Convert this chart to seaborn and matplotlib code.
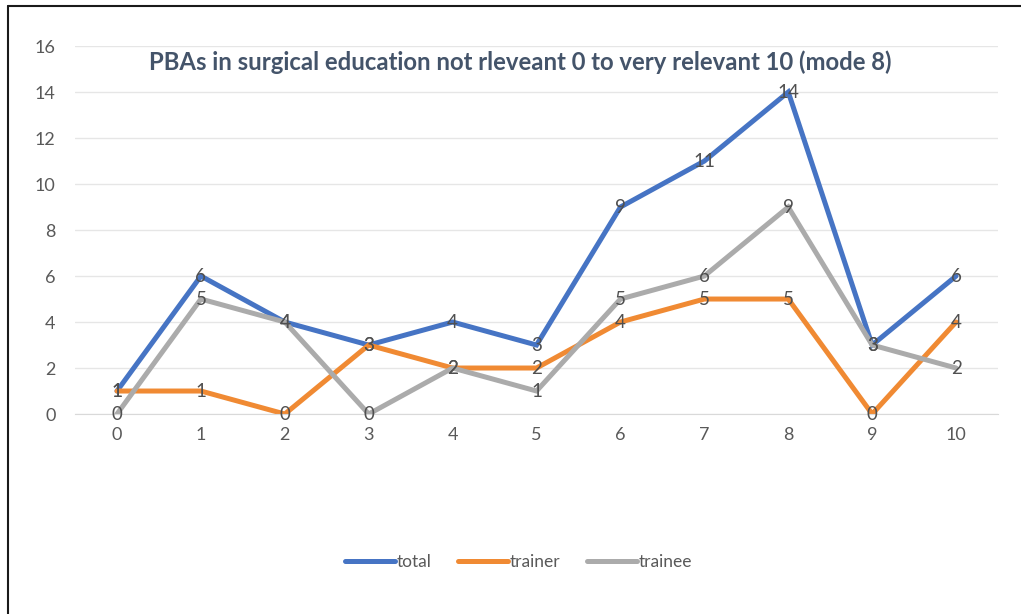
import pandas as pd
import matplotlib.pyplot as plt
import seaborn as sns
from matplotlib.lines import Line2D

# data
scores = [0, 1, 2, 3, 4, 5, 6, 7, 8, 9, 10]
total = [1, 6, 4, 3, 4, 3, 9, 11, 14, 3, 6]
trainer = [1, 1, 0, 3, 2, 2, 4, 5, 5, 0, 4]
trainee = [0, 5, 4, 0, 2, 1, 5, 6, 9, 3, 2]
series_names = ["total", "trainer", "trainee"]
y_ticks = [0, 2, 4, 6, 8, 10, 12, 14, 16]

colors = {"total": "#4674C4", "trainer": "#F08A33", "trainee": "#ABABAB"}

df = pd.DataFrame({
    "score": scores * 3,
    "count": total + trainer + trainee,
    "group": [n for n in series_names for _ in scores],
})

sns.set_style("white")
plt.rcParams["font.family"] = ["Lato", "DejaVu Sans"]

fig = plt.figure(figsize=(10.21, 6.14), dpi=100)
ax = fig.add_axes([0.0735, 0.3257, 0.904, 0.5993])

sns.lineplot(data=df, x="score", y="count", hue="group", palette=colors,
             hue_order=series_names, linewidth=3.6, ax=ax, legend=False,
             solid_joinstyle="miter")

# data labels
for name, vals in zip(series_names, [total, trainer, trainee]):
    for x, y in zip(scores, vals):
        ax.text(x, y, str(y), ha="center", va="center", fontsize=13.5,
                color="#505050", zorder=5)

ax.set_xlim(-0.5, 10.5)
ax.set_ylim(0, 16)
ax.set_yticks(y_ticks)
ax.set_xticks(scores)
ax.set_xticks([s - 0.5 for s in scores] + [10.5], minor=True)
ax.grid(axis="y", color="#E6E6E6", linewidth=1)
ax.set_axisbelow(True)
for side in ["top", "right", "left"]:
    ax.spines[side].set_visible(False)
ax.spines["bottom"].set_color("#D9D9D9")
ax.tick_params(axis="x", which="major", length=0, pad=9, labelsize=13,
               labelcolor="#595959")
ax.tick_params(axis="x", which="minor", length=6, color="#D9D9D9",
               direction="out")
ax.tick_params(axis="y", length=0, pad=14, labelsize=13, labelcolor="#595959")
ax.set_xlabel("")
ax.set_ylabel("")

ax.text(0.482, 0.955, "PBAs in surgical education not rleveant 0 to very relevant 10 (mode 8)",
        transform=ax.transAxes, ha="center", va="center", fontsize=17.2,
        fontweight="bold", color="#44546A")

handles = [Line2D([], [], color=colors[n], linewidth=3.6) for n in series_names]
fig.legend(handles, series_names, loc="center", bbox_to_anchor=(0.508, 0.085),
           ncol=3, frameon=False, fontsize=12.5, labelcolor="#595959",
           handlelength=2.9, handletextpad=0.1, columnspacing=1.5)

# outer frame
fig.add_artist(Line2D([0.0075, 0.0075], [0, 0.99], transform=fig.transFigure,
                      color="#1a1a1a", linewidth=1.5))
fig.add_artist(Line2D([0.0075, 1.0], [0.99, 0.99], transform=fig.transFigure,
                      color="#1a1a1a", linewidth=1.5))

fig.savefig("out.png", dpi=100)
